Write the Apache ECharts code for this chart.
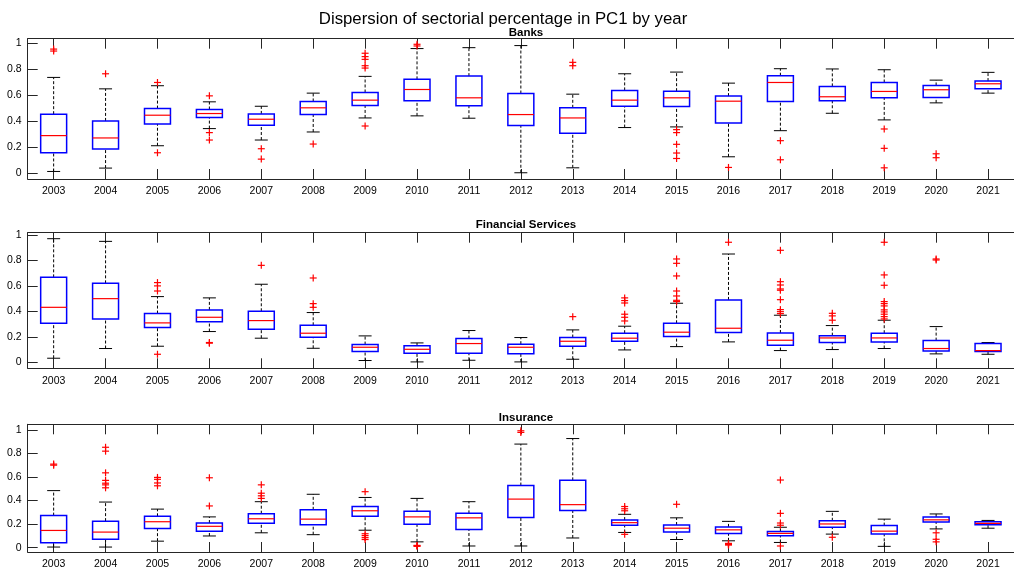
<!DOCTYPE html>
<html>
<head>
<meta charset="utf-8">
<script src="https://cdn.jsdelivr.net/npm/echarts@6/dist/echarts.min.js"></script>
<style>
  html, body { margin: 0; padding: 0; background: #fff; }
  #chart { width: 1014px; height: 570px; }
</style>
</head>
<body>
<div id="chart"></div>
<script>
// Years on the category axis
const years = ['2003','2004','2005','2006','2007','2008','2009','2010','2011','2012',
               '2013','2014','2015','2016','2017','2018','2019','2020','2021'];

// Box statistics per year: [lower whisker, Q1, median, Q3, upper whisker]
const banksBox = [
  [0.013, 0.157, 0.289, 0.454, 0.737],
  [0.039, 0.186, 0.271, 0.402, 0.649],
  [0.211, 0.379, 0.446, 0.497, 0.673],
  [0.343, 0.428, 0.459, 0.490, 0.549],
  [0.255, 0.369, 0.415, 0.456, 0.515],
  [0.317, 0.451, 0.503, 0.552, 0.616],
  [0.425, 0.521, 0.562, 0.621, 0.745],
  [0.441, 0.557, 0.644, 0.722, 0.959],
  [0.423, 0.518, 0.580, 0.747, 0.966],
  [0.003, 0.366, 0.451, 0.613, 0.982],
  [0.041, 0.307, 0.425, 0.503, 0.608],
  [0.351, 0.515, 0.562, 0.637, 0.765],
  [0.356, 0.513, 0.580, 0.631, 0.778],
  [0.126, 0.387, 0.554, 0.593, 0.693],
  [0.327, 0.552, 0.698, 0.750, 0.804],
  [0.461, 0.557, 0.588, 0.668, 0.802],
  [0.410, 0.580, 0.629, 0.698, 0.796],
  [0.541, 0.582, 0.642, 0.675, 0.716],
  [0.616, 0.649, 0.688, 0.709, 0.776]
];
const banksOut = [
  [0.955, 0.940], [0.765], [0.698, 0.157], [0.595, 0.312, 0.255], [0.188, 0.108],
  [0.224], [0.923, 0.897, 0.876, 0.827, 0.809, 0.363], [0.992, 0.979], [], [],
  [0.853, 0.827], [], [0.335, 0.312, 0.222, 0.155, 0.113], [0.044], [0.250, 0.103],
  [], [0.340, 0.191, 0.041], [0.149, 0.119], []
];

const finBox = [
  [0.034, 0.308, 0.433, 0.668, 0.971],
  [0.110, 0.342, 0.501, 0.621, 0.950],
  [0.128, 0.274, 0.311, 0.384, 0.517],
  [0.243, 0.319, 0.355, 0.413, 0.507],
  [0.191, 0.261, 0.329, 0.402, 0.614],
  [0.112, 0.198, 0.230, 0.292, 0.392],
  [0.016, 0.086, 0.120, 0.141, 0.209],
  [0.005, 0.073, 0.104, 0.131, 0.154],
  [0.018, 0.073, 0.149, 0.188, 0.251],
  [0.005, 0.070, 0.120, 0.144, 0.196],
  [0.026, 0.128, 0.167, 0.196, 0.256],
  [0.099, 0.167, 0.191, 0.230, 0.285],
  [0.125, 0.204, 0.238, 0.308, 0.465],
  [0.162, 0.235, 0.269, 0.491, 0.851],
  [0.094, 0.136, 0.175, 0.232, 0.371],
  [0.102, 0.157, 0.193, 0.211, 0.290],
  [0.110, 0.162, 0.193, 0.230, 0.332],
  [0.068, 0.091, 0.110, 0.172, 0.282],
  [0.065, 0.086, 0.094, 0.149, 0.157]
];
const finOut = [
  [], [], [0.627, 0.601, 0.561, 0.065], [0.157, 0.152], [0.762],
  [0.663, 0.462, 0.433], [], [], [], [],
  [0.360], [0.507, 0.486, 0.467, 0.379, 0.355, 0.326],
  [0.812, 0.778, 0.679, 0.561, 0.522, 0.488, 0.478], [0.943],
  [0.880, 0.634, 0.608, 0.577, 0.567, 0.493, 0.415, 0.399, 0.384],
  [0.386, 0.366, 0.332],
  [0.943, 0.687, 0.606, 0.478, 0.462, 0.444, 0.413, 0.397, 0.379, 0.360, 0.342],
  [0.812, 0.804], []
];

const insBox = [
  [0.005, 0.041, 0.146, 0.272, 0.484],
  [0.005, 0.071, 0.132, 0.225, 0.387],
  [0.055, 0.162, 0.220, 0.266, 0.327],
  [0.099, 0.140, 0.181, 0.209, 0.261],
  [0.126, 0.206, 0.245, 0.288, 0.390],
  [0.110, 0.195, 0.242, 0.321, 0.453],
  [0.148, 0.266, 0.313, 0.349, 0.426],
  [0.049, 0.198, 0.261, 0.308, 0.418],
  [0.014, 0.154, 0.253, 0.291, 0.390],
  [0.014, 0.255, 0.412, 0.527, 0.879],
  [0.082, 0.316, 0.365, 0.571, 0.926],
  [0.129, 0.190, 0.212, 0.234, 0.283],
  [0.069, 0.132, 0.165, 0.192, 0.253],
  [0.058, 0.121, 0.151, 0.176, 0.223],
  [0.044, 0.102, 0.121, 0.137, 0.173],
  [0.115, 0.173, 0.201, 0.228, 0.308],
  [0.011, 0.115, 0.140, 0.187, 0.242],
  [0.159, 0.217, 0.236, 0.261, 0.286],
  [0.165, 0.195, 0.206, 0.220, 0.231]
];
const insOut = [
  [0.709, 0.700], [0.852, 0.819, 0.635, 0.571, 0.547, 0.533, 0.508],
  [0.596, 0.580, 0.549, 0.525], [0.593, 0.354], [0.533, 0.462, 0.440, 0.418],
  [], [0.475, 0.118, 0.102, 0.085, 0.069], [0.019, 0.015, 0.011], [],
  [0.992, 0.978], [], [0.349, 0.330, 0.313, 0.113], [0.368], [0.036, 0.027, 0.022],
  [0.574, 0.291, 0.209, 0.190, 0.014], [0.088], [], [0.126, 0.071, 0.049], []
];

const yTicks = [0, 0.2, 0.4, 0.6, 0.8, 1];

const panels = [
  { name: 'Banks',              box: banksBox, out: banksOut, top: 38.7,  height: 140.3, yMin: -0.045, yMax: 1.035, titleTop: 26.5 },
  { name: 'Financial Services', box: finBox,   out: finOut,   top: 232.7, height: 135.6, yMin: -0.045, yMax: 1.018, titleTop: 218.5 },
  { name: 'Insurance',          box: insBox,   out: insOut,   top: 424.3, height: 131.4, yMin: -0.037, yMax: 1.047, titleTop: 411.5 }
];

const AXIS_COLOR = '#262626';
const FONT = '"Liberation Sans", Arial, Helvetica, sans-serif';

function renderBox(params, api) {
  const x = api.value(0);
  const band = api.size([1, 0])[0];
  const half = band * 0.25;   // box width = 0.5 of a category
  const capHalf = band * 0.125;
  const pLo = api.coord([x, api.value(1)]);
  const pQ1 = api.coord([x, api.value(2)]);
  const pMed = api.coord([x, api.value(3)]);
  const pQ3 = api.coord([x, api.value(4)]);
  const pHi = api.coord([x, api.value(5)]);
  const cx = pMed[0];
  const dash = { stroke: '#000', lineWidth: 1, lineDash: [3, 2] };
  const solid = { stroke: '#000', lineWidth: 1 };
  return {
    type: 'group',
    children: [
      { type: 'line', shape: { x1: cx, y1: pQ3[1], x2: cx, y2: pHi[1] }, style: dash },
      { type: 'line', shape: { x1: cx, y1: pLo[1], x2: cx, y2: pQ1[1] }, style: dash },
      { type: 'line', shape: { x1: cx - capHalf, y1: pHi[1], x2: cx + capHalf, y2: pHi[1] }, style: solid },
      { type: 'line', shape: { x1: cx - capHalf, y1: pLo[1], x2: cx + capHalf, y2: pLo[1] }, style: solid },
      { type: 'rect', shape: { x: cx - half, y: pQ3[1], width: half * 2, height: pQ1[1] - pQ3[1] },
        style: { fill: 'none', stroke: '#0000ff', lineWidth: 1.5 } },
      { type: 'line', shape: { x1: cx - half, y1: pMed[1], x2: cx + half, y2: pMed[1] },
        style: { stroke: '#ff0000', lineWidth: 1.2 } }
    ]
  };
}

function renderPlus(params, api) {
  const p = api.coord([api.value(0), api.value(1)]);
  const s = 3.5;
  const st = { stroke: '#ff0000', lineWidth: 1.2 };
  return {
    type: 'group',
    children: [
      { type: 'line', shape: { x1: p[0] - s, y1: p[1], x2: p[0] + s, y2: p[1] }, style: st },
      { type: 'line', shape: { x1: p[0], y1: p[1] - s, x2: p[0], y2: p[1] + s }, style: st }
    ]
  };
}

const grid = [], xAxis = [], yAxis = [], series = [];
const title = [{
  text: 'Dispersion of sectorial percentage in PC1 by year',
  left: 503, top: 11, textAlign: 'center', padding: 0,
  textStyle: { fontFamily: FONT, fontSize: 16.8, fontWeight: 'normal', color: '#000' }
}];

panels.forEach((pn, i) => {
  grid.push({ left: 27.7, top: pn.top, width: 996.3, height: pn.height, containLabel: false });
  title.push({
    text: pn.name, left: 526, top: pn.titleTop, textAlign: 'center', padding: 0,
    textStyle: { fontFamily: FONT, fontSize: 11.5, fontWeight: 'bold', color: '#000' }
  });
  // bottom axis with year labels
  xAxis.push({
    type: 'category', gridIndex: i, data: years, position: 'bottom', boundaryGap: true,
    axisLine: { show: true, onZero: false, lineStyle: { color: AXIS_COLOR, width: 1 } },
    axisTick: { show: true, inside: true, length: 10, alignWithLabel: true, lineStyle: { color: AXIS_COLOR } },
    axisLabel: { show: true, color: '#000', fontFamily: FONT, fontSize: 10.5, margin: 7, interval: 0 },
    splitLine: { show: false }
  });
  // top edge of the axes box
  xAxis.push({
    type: 'category', gridIndex: i, data: years, position: 'top', boundaryGap: true,
    axisLine: { show: true, onZero: false, lineStyle: { color: AXIS_COLOR, width: 1 } },
    axisTick: { show: true, inside: true, length: 10, alignWithLabel: true, lineStyle: { color: AXIS_COLOR } },
    axisLabel: { show: false },
    splitLine: { show: false }
  });
  yAxis.push({
    type: 'value', gridIndex: i, min: pn.yMin, max: pn.yMax, position: 'left',
    axisLine: { show: true, onZero: false, lineStyle: { color: AXIS_COLOR, width: 1 } },
    axisTick: { show: true, inside: true, length: 10, customValues: yTicks, lineStyle: { color: AXIS_COLOR } },
    axisLabel: { show: true, customValues: yTicks, color: '#000', fontFamily: FONT, fontSize: 10.5, margin: 6,
                 formatter: v => String(Math.round(v * 10) / 10) },
    splitLine: { show: false }
  });

  const boxData = pn.box.map((b, k) => [k].concat(b));
  const outData = [];
  pn.out.forEach((vals, k) => vals.forEach(v => outData.push([k, v])));

  series.push({
    type: 'custom', name: pn.name + ' box', xAxisIndex: i * 2, yAxisIndex: i,
    data: boxData, encode: { x: 0, y: [1, 2, 3, 4, 5] },
    renderItem: renderBox, silent: true, animation: false, clip: false
  });
  series.push({
    type: 'custom', name: pn.name + ' outliers', xAxisIndex: i * 2, yAxisIndex: i,
    data: outData, encode: { x: 0, y: 1 },
    renderItem: renderPlus, silent: true, animation: false, clip: false
  });
});

const chart = echarts.init(document.getElementById('chart'), null, { renderer: 'canvas' });
chart.setOption({
  backgroundColor: '#fff',
  animation: false,
  title, grid, xAxis, yAxis, series
});
</script>
</body>
</html>
